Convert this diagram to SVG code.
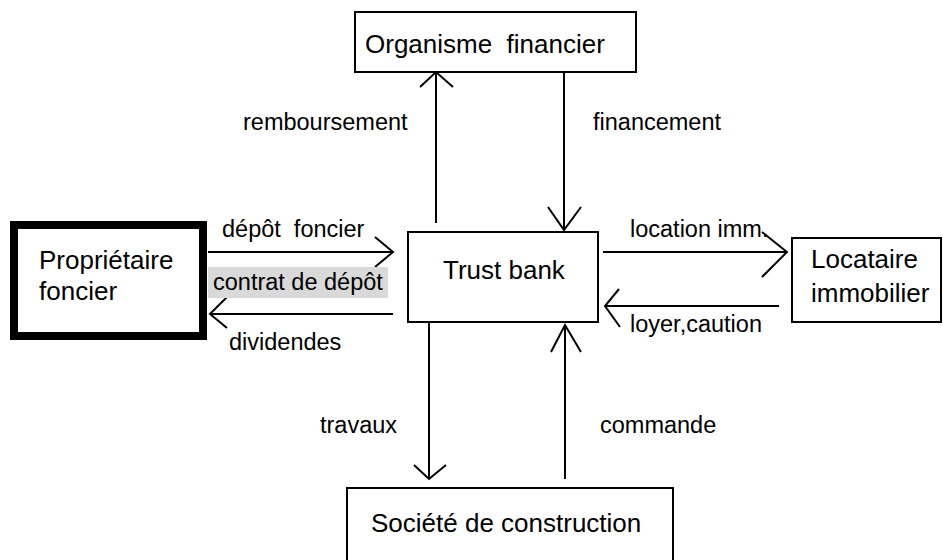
<svg xmlns="http://www.w3.org/2000/svg" width="943" height="560" viewBox="0 0 943 560">
<style>
.box{fill:#fff;stroke:#000;stroke-width:2}
.thick{fill:#fff;stroke:#000;stroke-width:8}
.node{font-family:"Liberation Sans",Arial,sans-serif;font-size:26px;fill:#000;white-space:pre}
.lbl{font-family:"Liberation Sans",Arial,sans-serif;font-size:23.5px;fill:#000;white-space:pre}
.ln{fill:none;stroke:#000;stroke-width:2}
</style>
<rect width="943" height="560" fill="#fff"/>
<g id="connectors">
  <g id="c-remboursement">
    <line class="ln" x1="436" y1="223" x2="436" y2="72"/>
    <polyline class="ln" points="420,87 436,72 453,87"/>
  </g>
  <g id="c-financement">
    <line class="ln" x1="564" y1="72" x2="564" y2="230"/>
    <polyline class="ln" points="548,207 564,230 581,207"/>
  </g>
  <g id="c-depot">
    <line class="ln" x1="208" y1="252" x2="393" y2="252"/>
    <polyline class="ln" points="375,237 393,252 375,267"/>
  </g>
  <g id="c-dividendes">
    <line class="ln" x1="393" y1="314" x2="210" y2="314"/>
    <polyline class="ln" points="227,297 210,314 227,328"/>
  </g>
  <g id="c-location">
    <line class="ln" x1="603" y1="252" x2="787" y2="252"/>
    <polyline class="ln" points="762,232 787,252 762,277"/>
  </g>
  <g id="c-loyer">
    <line class="ln" x1="779" y1="306" x2="605" y2="306"/>
    <polyline class="ln" points="619,289 605,306 620,327"/>
  </g>
  <g id="c-travaux">
    <line class="ln" x1="429" y1="323" x2="429" y2="479"/>
    <polyline class="ln" points="414,465 429,479 446,465"/>
  </g>
  <g id="c-commande">
    <line class="ln" x1="565" y1="479" x2="565" y2="325"/>
    <polyline class="ln" points="551,352 565,325 581,352"/>
  </g>
  <rect x="208" y="267" width="180" height="31" fill="#d9d9d9"/>
  <text class="lbl" x="243" y="130">remboursement</text>
  <text class="lbl" x="593" y="130">financement</text>
  <text class="lbl" x="222" y="237">dépôt  foncier</text>
  <text class="lbl" x="213" y="290">contrat de dépôt</text>
  <text class="lbl" x="229" y="350">dividendes</text>
  <text class="lbl" x="630" y="237">location imm.</text>
  <text class="lbl" x="630" y="332">loyer,caution</text>
  <text class="lbl" x="320" y="433">travaux</text>
  <text class="lbl" x="600" y="433">commande</text>
</g>
<g id="organisme">
  <rect class="box" x="355" y="12" width="281" height="60"/>
  <text class="node" x="365" y="53">Organisme  financier</text>
</g>
<g id="proprietaire">
  <rect class="thick" x="14" y="225" width="189" height="111"/>
  <text class="node" x="39" y="269">Propriétaire</text>
  <text class="node" x="39" y="300">foncier</text>
</g>
<g id="trustbank">
  <rect class="box" x="408" y="232" width="190" height="90"/>
  <text class="node" x="443" y="279">Trust bank</text>
</g>
<g id="locataire">
  <rect class="box" x="792" y="238" width="149" height="84"/>
  <text class="node" x="811" y="268">Locataire</text>
  <text class="node" x="811" y="302">immobilier</text>
</g>
<g id="societe">
  <rect class="box" x="347" y="488" width="326" height="90"/>
  <text class="node" x="371" y="532">Société de construction</text>
</g>
</svg>
